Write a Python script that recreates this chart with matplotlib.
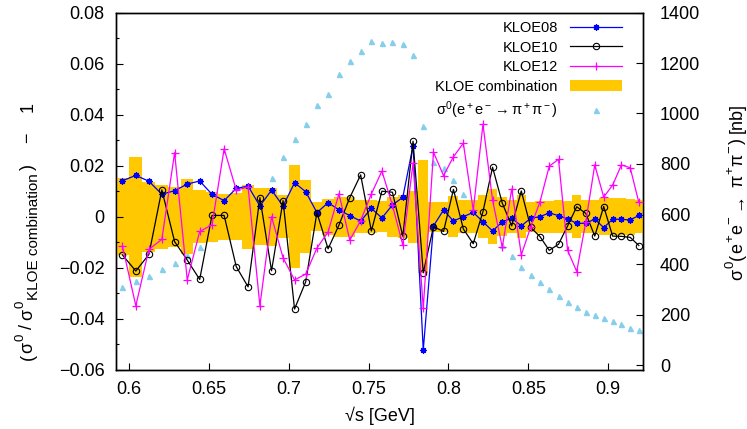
import matplotlib
matplotlib.use('Agg')
import matplotlib.pyplot as plt
from matplotlib.ticker import MultipleLocator, FuncFormatter
from matplotlib.patches import Patch
from matplotlib.lines import Line2D
from matplotlib.transforms import IdentityTransform
import numpy as np

plt.rcParams['font.family'] = ['Liberation Sans', 'DejaVu Sans']
plt.rcParams['mathtext.fontset'] = 'custom'
plt.rcParams['mathtext.rm'] = 'Liberation Sans'
plt.rcParams['mathtext.it'] = 'Liberation Sans:italic'
plt.rcParams['mathtext.bf'] = 'Liberation Sans:bold'

# bin centres in sqrt(s) [GeV]
sqrt_s = [0.5958, 0.6042, 0.6124, 0.6205, 0.6285, 0.6364, 0.6442, 0.6519, 0.6595, 0.6671,
          0.6745, 0.6819, 0.6892, 0.6964, 0.7036, 0.7106, 0.7176, 0.7246, 0.7314, 0.7382,
          0.7450, 0.7517, 0.7583, 0.7649, 0.7714, 0.7778, 0.7842, 0.7906, 0.7969, 0.8031,
          0.8093, 0.8155, 0.8216, 0.8276, 0.8337, 0.8396, 0.8456, 0.8515, 0.8573, 0.8631,
          0.8689, 0.8746, 0.8803, 0.8860, 0.8916, 0.8972, 0.9028, 0.9083, 0.9138, 0.9192]

# relative deviation from the combination
kloe08 = [0.0141, 0.0162, 0.0139, 0.0088, 0.0102, 0.0128, 0.0140, 0.0088, 0.0063, 0.0111,
          0.0120, 0.0042, 0.0104, 0.0042, 0.0133, 0.0098, 0.0016, 0.0055, 0.0027, 0.0004,
          -0.0017, 0.0033, -0.0005, 0.0046, 0.0076, 0.0278, -0.0523, -0.0036, 0.0026, -0.0017,
          0.0000, 0.0017, -0.0020, -0.0056, -0.0020, -0.0006, -0.0036, -0.0006, 0.0000, 0.0015,
          0.0004, -0.0009, -0.0026, -0.0026, -0.0009, -0.0043, -0.0010, -0.0010, -0.0013, 0.0005]

kloe10 = [-0.0150, -0.0213, -0.0148, 0.0105, -0.0098, -0.0170, -0.0246, 0.0005, 0.0005, -0.0196,
          -0.0275, 0.0075, -0.0212, 0.0063, -0.0362, -0.0255, 0.0016, -0.0126, -0.0033, 0.0075,
          0.0164, -0.0056, 0.0100, 0.0096, -0.0077, 0.0296, -0.0220, -0.0039, -0.0058, 0.0107,
          -0.0048, -0.0106, 0.0020, 0.0194, 0.0053, -0.0036, 0.0101, -0.0042, -0.0078, -0.0132,
          -0.0108, -0.0036, 0.0039, 0.0013, -0.0076, 0.0040, -0.0076, -0.0077, -0.0081, -0.0113]

kloe12 = [-0.0115, -0.0349, -0.0128, -0.0089, 0.0251, -0.0248, -0.0058, -0.0032, 0.0266, 0.0104,
          0.0117, -0.0349, 0.0000, -0.0161, -0.0248, -0.0225, -0.0123, -0.0060, 0.0090, -0.0092,
          -0.0015, 0.0089, 0.0179, 0.0045, -0.0111, 0.0209, -0.0359, 0.0253, 0.0161, 0.0235,
          0.0288, 0.0026, 0.0362, 0.0065, -0.0120, 0.0109, -0.0150, -0.0040, 0.0058, 0.0198,
          0.0225, -0.0132, -0.0215, -0.0020, 0.0203, 0.0077, 0.0124, 0.0203, 0.0192, 0.0056]

# relative uncertainty of the KLOE combination
combo_err = [0.0150, 0.0235, 0.0137, 0.0125, 0.0118, 0.0146, 0.0105, 0.0098, 0.0090, 0.0092,
             0.0125, 0.0112, 0.0114, 0.0084, 0.0201, 0.0144, 0.0058, 0.0071, 0.0078, 0.0078,
             0.0065, 0.0065, 0.0060, 0.0078, 0.0085, 0.0102, 0.0221, 0.0059, 0.0059, 0.0081,
             0.0065, 0.0065, 0.0085, 0.0108, 0.0076, 0.0065, 0.0085, 0.0059, 0.0063, 0.0063,
             0.0065, 0.0063, 0.0085, 0.0065, 0.0065, 0.0072, 0.0072, 0.0072, 0.0070, 0.0065]

# bare cross section [nb]
sigma0 = [309, 334, 354, 380, 404, 436, 470, 505, 545, 590,
          640, 690, 745, 825, 899, 956, 1035, 1079, 1157, 1209,
          1246, 1287, 1280, 1282, 1276, 1233, 951, 808, 782, 736,
          680, 630, 580, 530, 478, 434, 388, 358, 329, 301,
          276, 252, 232, 212, 199, 187, 174, 162, 148, 139]

W, H = 747, 429
fig = plt.figure(figsize=(7.47, 4.29), dpi=100)
ax = fig.add_axes([115.7 / W, 1 - 369.7 / H, (643.3 - 115.7) / W, (369.7 - 12.7) / H])
ax2 = ax.twinx()
ax.set_zorder(ax2.get_zorder() + 1)
ax.patch.set_visible(False)

yellow = '#ffc800'
tri_col = '#87ceeb'

x = np.array(sqrt_s)
mid = (x[1:] + x[:-1]) / 2
edges = np.concatenate([[2 * x[0] - mid[0]], mid, [2 * x[-1] - mid[-1]]])
err = np.array(combo_err)
err_step = np.append(err, err[-1])
ax.fill_between(edges, -err_step, err_step, step='post', color=yellow, lw=0, zorder=1)

ax.plot(x, kloe08, color='#0000ff', lw=0.9, marker=(8, 2, 0), ms=4.5, mew=0.9, zorder=3)
ax.plot(x, kloe10, color='black', lw=0.9, marker='o', ms=4.6, mfc='none', mew=0.8, zorder=3)
ax.plot(x, kloe12, color='#ff00ff', lw=0.9, marker='+', ms=5.5, mew=0.9, zorder=3)
ax2.plot(x, sigma0, ls='none', marker='^', ms=3.6, color=tri_col)

ax.set_xlim(0.5916, 0.9220)
ax.set_ylim(-0.06, 0.08)
ax2.set_ylim(-18, 1400)

fmt = FuncFormatter(lambda v, p: ('%g' % round(v, 4)).replace('-', '\u2212'))
ax.xaxis.set_major_locator(MultipleLocator(0.05))
ax.xaxis.set_major_formatter(fmt)
ax.yaxis.set_major_locator(MultipleLocator(0.02))
ax.yaxis.set_minor_locator(MultipleLocator(0.01))
ax.yaxis.set_major_formatter(fmt)
ax2.yaxis.set_major_locator(MultipleLocator(200))

ax.tick_params(which='both', direction='in', top=False, right=False, labelsize=13, width=0.8)
ax.tick_params(which='major', length=5)
ax.tick_params(which='minor', length=2.5)
ax.tick_params(axis='y', pad=8)
ax.tick_params(axis='x', pad=8)
ax2.tick_params(axis='y', direction='in', length=5, width=0.8, labelsize=13, pad=12)
for a in (ax, ax2):
    for s in a.spines.values():
        s.set_linewidth(1.0)

ax.set_xlabel('\u221as [GeV]', fontsize=13, labelpad=6)


def vertical_label(pieces, x_base, y_start, target_len):
    # pieces: (text, size, baseline shift, gap weight); image pixel coords, read upwards
    renderer = fig.canvas.get_renderer()
    widths = []
    for txt, size, dx, wgt in pieces:
        tmp = fig.text(0, 0, txt, fontsize=size)
        widths.append(tmp.get_window_extent(renderer).width)
        tmp.remove()
    natural = sum(widths)
    total_w = sum(p[3] for p in pieces)
    unit = max(0.0, (target_len - natural) / total_w) if total_w else 0.0
    y = H - y_start
    for (txt, size, dx, wgt), w in zip(pieces, widths):
        fig.text(x_base + dx, y, txt, fontsize=size, rotation=90, rotation_mode='anchor',
                 ha='left', va='baseline', transform=IdentityTransform())
        y += w + unit * wgt


left_pieces = [
    ('(', 13, 0, 0.1),
    ('\u03c3', 13, 0, 0.1),
    ('0', 9.5, -9, 0.4),
    ('/', 13, 0, 0.4),
    ('\u03c3', 13, 0, 0.1),
    ('0', 9.5, -9, 0.1),
    ('KLOE combination', 11, 5, 0.3),
    (')', 13, 0, 2),
    ('\u2212', 13, 0, 2),
    ('1', 13, 0, 0),
]
vertical_label(left_pieces, 32.5, 360, 258)

right_pieces = [
    ('\u03c3', 13, 0, 0.3),
    ('0', 9.5, -9, 0.3),
    ('(', 13, 0, 0.3),
    ('e', 13, 0, 0.2),
    ('+', 9.5, -9, 0.2),
    ('e', 13, 0, 0.2),
    ('\u2212', 9.5, -9, 2),
    ('\u2192', 13, 0, 2),
    ('\u03c0', 13, 0, 0.2),
    ('+', 9.5, -9, 0.2),
    ('\u03c0', 13, 0, 0.2),
    ('\u2212', 9.5, -9, 0.3),
    (')', 13, 0, 2),
    ('[nb]', 13, 0, 0),
]
vertical_label(right_pieces, 742, 280, 177)

handles = [
    Line2D([], [], color='#0000ff', lw=0.9, marker=(8, 2, 0), ms=4.5, mew=0.9),
    Line2D([], [], color='black', lw=0.9, marker='o', ms=4.6, mfc='none', mew=0.8),
    Line2D([], [], color='#ff00ff', lw=0.9, marker='+', ms=5.5, mew=0.9),
    Patch(facecolor=yellow, edgecolor='none'),
    Line2D([], [], ls='none', marker='^', ms=3.6, color=tri_col),
]
labels = ['KLOE08', 'KLOE10', 'KLOE12', 'KLOE combination',
          r'$\mathrm{\sigma}^0(\mathrm{e}^+\mathrm{e}^- \rightarrow \mathrm{\pi}^+\mathrm{\pi}^-)$']
ax.legend(handles, labels, loc='upper right', bbox_to_anchor=(622 / W, 1 - 21 / H),
          bbox_transform=fig.transFigure, frameon=False, markerfirst=False, fontsize=10.5,
          handlelength=3.6, handletextpad=0.8, labelspacing=0.38, borderpad=0, borderaxespad=0,
          numpoints=1)

fig.savefig('out.png', dpi=100)
